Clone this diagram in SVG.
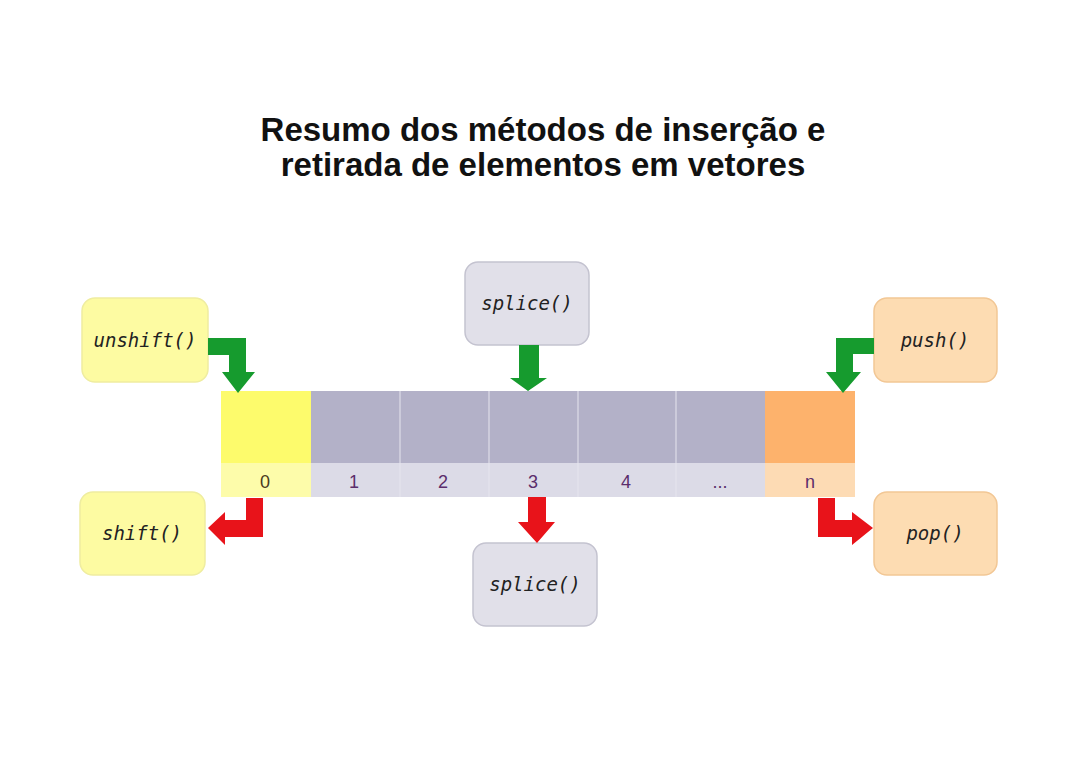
<svg xmlns="http://www.w3.org/2000/svg" width="1080" height="759" viewBox="0 0 1080 759">
<style>
.title{font-family:"Liberation Sans",Arial,sans-serif;font-weight:bold;font-size:33px;fill:#111;text-anchor:middle}
.fn{font-family:"DejaVu Sans Mono",monospace;font-style:italic;font-size:19px;fill:#222;text-anchor:middle;dominant-baseline:central}
.idx{font-family:"Liberation Sans",Arial,sans-serif;font-size:18px;fill:#5b2d6b;text-anchor:middle}
.yb{fill:#fdfba2;stroke:#efeda0;stroke-width:1.5}
.gb{fill:#e1e0e9;stroke:#c4c3d0;stroke-width:1.5}
.ob{fill:#fddcb2;stroke:#f2c795;stroke-width:1.5}
.green{fill:#169b2e}
.red{fill:#e8131a}
.sep{stroke:#e6e5ee;stroke-width:1}
</style>
<rect width="1080" height="759" fill="#ffffff"/>
<text class="title" x="543" y="141">Resumo dos métodos de inserção e</text>
<text class="title" x="543" y="176">retirada de elementos em vetores</text>

<g id="array">
<rect x="221" y="391" width="90" height="72" fill="#fdfb6c"/>
<rect x="311" y="391" width="454" height="72" fill="#b3b1c8"/>
<rect x="765" y="391" width="90" height="72" fill="#fdb26c"/>
<rect x="221" y="463" width="90" height="34" fill="#fdfcaa"/>
<rect x="311" y="463" width="454" height="34" fill="#dcdbe7"/>
<rect x="765" y="463" width="90" height="34" fill="#fddbb4"/>
<line class="sep" x1="400" y1="391" x2="400" y2="497"/>
<line class="sep" x1="489" y1="391" x2="489" y2="497"/>
<line class="sep" x1="578" y1="391" x2="578" y2="497"/>
<line class="sep" x1="676" y1="391" x2="676" y2="497"/>
<text class="idx" x="265" y="488" style="fill:#4a3a20">0</text>
<text class="idx" x="354" y="488">1</text>
<text class="idx" x="443" y="488">2</text>
<text class="idx" x="533" y="488">3</text>
<text class="idx" x="626" y="488">4</text>
<text class="idx" x="720" y="488">...</text>
<text class="idx" x="810" y="488">n</text>
</g>

<g id="unshift"><rect class="yb" x="82" y="298" width="126" height="84" rx="13"/><text class="fn" x="145" y="340">unshift()</text></g>
<g id="shift"><rect class="yb" x="80" y="492" width="125" height="83" rx="13"/><text class="fn" x="142" y="533">shift()</text></g>
<g id="splice-top"><rect class="gb" x="465" y="262" width="124" height="83" rx="13"/><text class="fn" x="527" y="303">splice()</text></g>
<g id="splice-bottom"><rect class="gb" x="473" y="543" width="124" height="83" rx="13"/><text class="fn" x="535" y="584">splice()</text></g>
<g id="push"><rect class="ob" x="874" y="298" width="123" height="84" rx="13"/><text class="fn" x="935" y="340">push()</text></g>
<g id="pop"><rect class="ob" x="874" y="492" width="123" height="83" rx="13"/><text class="fn" x="935" y="533">pop()</text></g>

<g id="connectors">
<polygon class="green" points="208,338 246,338 246,372 255,372 238,393 222,372 229,372 229,355 208,355"/>
<polygon class="red" points="246,498 263,498 263,537 225,537 225,545 208,528 225,512 225,520 246,520"/>
<polygon class="green" points="519,345 539,345 539,378 547,378 528,391 510,378 519,378"/>
<polygon class="red" points="528,497 546,497 546,522 555,522 537,543 518,522 528,522"/>
<polygon class="green" points="874,338 874,354 853,354 853,372 861,372 843,393 826,372 836,372 836,338"/>
<polygon class="red" points="818,498 835,498 835,520 852,520 852,512 873,528 852,545 852,537 818,537"/>
</g>
</svg>
